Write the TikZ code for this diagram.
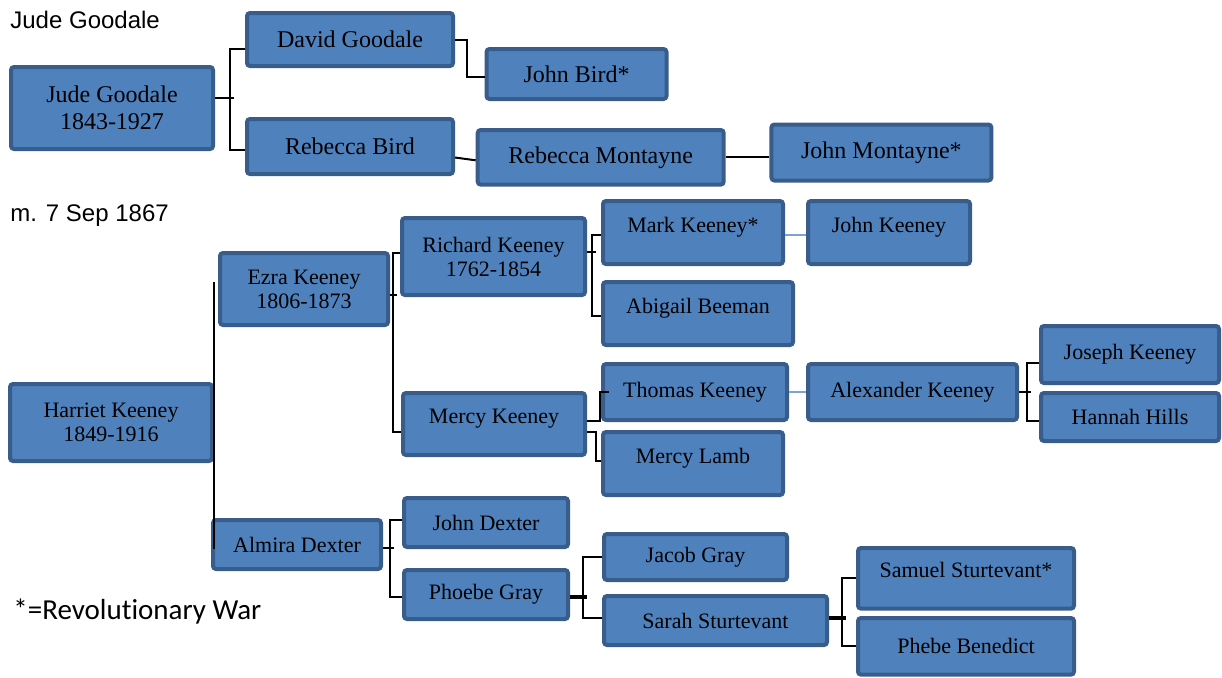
\documentclass[tikz,border=0pt]{standalone}
\usepackage{fontspec}
\setmainfont{Liberation Serif}
\newfontfamily\labelfont{Liberation Sans}
\newfontfamily\notefont[Ligatures=NoCommon]{Carlito}
\definecolor{boxfill}{HTML}{4F81BD}
\definecolor{boxline}{HTML}{385D8A}
\definecolor{tieblue}{HTML}{7BA3D8}

\begin{document}
\begin{tikzpicture}[x=0.5pt,y=-0.5pt,
	person/.style={draw=boxline, fill=boxfill, line width=2pt, rounded corners=1.5pt, align=center, inner sep=0pt, font=\fontsize{11}{12}\selectfont},
	elder/.style={person, font=\fontsize{12}{13.5}\selectfont},
	lifted/.style={text depth=8pt},
	link/.style={line width=1pt},
	stub/.style={line width=1.6pt},
	tie/.style={draw=tieblue, line width=1pt},
	caption/.style={anchor=base west, inner sep=0pt}]
	\useasboundingbox (0,0) rectangle (1222,677);
	\node[caption, font=\labelfont\fontsize{12}{14}\selectfont] (title) at (10,28) {Jude Goodale};
	\node[caption, font=\labelfont\fontsize{12}{14}\selectfont] (married) at (10,221) {m. 7 Sep 1867};
	\node[caption, font=\notefont\fontsize{14.5}{17}\selectfont] (key) at (13,619) {*=Revolutionary War};
	\node[elder, minimum width=101pt, minimum height=41pt] (jude) at (112,108) {Jude Goodale\\1843-1927};
	\node[elder, minimum width=103pt, minimum height=26.5pt] (david) at (350,39.5) {David Goodale};
	\node[elder, minimum width=103pt, minimum height=27.5pt] (rebecca) at (350,146.5) {Rebecca Bird};
	\node[elder, minimum width=90pt, minimum height=25pt] (johnbird) at (576.5,74) {John Bird*};
	\node[elder, minimum width=123pt, minimum height=27.3pt] (rmontayne) at (600.7,157.3) {Rebecca Montayne};
	\node[elder, minimum width=110pt, minimum height=28pt] (jmontayne) at (881.4,152.5) {John Montayne*};
	\node[person, minimum width=101pt, minimum height=38.5pt] (harriet) at (111,422.5) {Harriet Keeney\\1849-1916};
	\node[person, minimum width=84pt, minimum height=36pt] (ezra) at (304,289) {Ezra Keeney\\1806-1873};
	\node[person, minimum width=84pt, minimum height=24.5pt] (almira) at (297,544.5) {Almira Dexter};
	\node[person, minimum width=91.5pt, minimum height=38.5pt] (richard) at (493.5,256.5) {Richard Keeney\\1762-1854};
	\node[person, lifted, minimum width=91pt, minimum height=31pt] (mercyk) at (494,424) {Mercy Keeney};
	\node[person, lifted, minimum width=90pt, minimum height=31.5pt] (mark) at (693,232.5) {Mark Keeney*};
	\node[person, lifted, minimum width=81pt, minimum height=31.5pt] (johnk) at (889,232.5) {John Keeney};
	\node[person, lifted, minimum width=95pt, minimum height=31.5pt] (abigail) at (698,313.5) {Abigail Beeman};
	\node[person, minimum width=92pt, minimum height=28pt] (thomas) at (695,392) {Thomas Keeney};
	\node[person, minimum width=104.5pt, minimum height=28pt] (alexander) at (912.5,392) {Alexander Keeney};
	\node[person, minimum width=89pt, minimum height=28.5pt] (joseph) at (1130,354.5) {Joseph Keeney};
	\node[person, minimum width=89pt, minimum height=24pt] (hannah) at (1130,417) {Hannah Hills};
	\node[person, lifted, minimum width=90pt, minimum height=31.5pt] (mercyl) at (693,463.5) {Mercy Lamb};
	\node[person, minimum width=82pt, minimum height=24.5pt] (johnd) at (486,522.5) {John Dexter};
	\node[person, minimum width=82pt, minimum height=24.5pt] (phoebe) at (486,594.5) {Phoebe Gray};
	\node[person, minimum width=91.5pt, minimum height=23pt] (jacob) at (695.5,557) {Jacob Gray};
	\node[person, minimum width=111.5pt, minimum height=24.5pt] (sarah) at (715.5,620.5) {Sarah Sturtevant};
	\node[person, lifted, minimum width=108pt, minimum height=30.3pt] (samuel) at (966,578.3) {Samuel Sturtevant*};
	\node[person, minimum width=108pt, minimum height=28.3pt] (phebe) at (966,646.3) {Phebe Benedict};
	\draw[link] ([yshift=5pt]jude.east) -- ++(19,0);
	\draw[link] ([yshift=-4.75pt]david.west) -- ++(-15,0) |- ([yshift=-1.75pt]rebecca.west);
	\draw[link] (david.east) -- ++(12,0) |- ([yshift=-1.5pt]johnbird.west);
	\draw[link] ([yshift=-5.5pt]rebecca.east) -- ([yshift=-1.5pt]rmontayne.west);
	\draw[link] (rmontayne.east) -- (rmontayne.east -| jmontayne.west);
	\draw[link] (harriet.east |- ezra.west) ++(0,-7) -- (harriet.east |- almira.west) -- ++(0,4);
	\draw[link] ([yshift=-3pt]ezra.east) -- ++(7,0);
	\draw[link] ([yshift=1.75pt]richard.west) -- ++(-7,0) |- ([yshift=-4pt]mercyk.west);
	\draw[link] ([yshift=2.25pt]richard.east) -- ++(9,0);
	\draw[link] ([yshift=-1.25pt]mark.west) -- ++(-9,0) |- ([yshift=-1.25pt]abigail.west);
	\draw[tie] ([yshift=-1.25pt]mark.east) -- ([yshift=-1.25pt]johnk.west);
	\draw[link] ([yshift=1.5pt]mercyk.east) -- ++(13,0) |- ([xshift=4pt]thomas.west);
	\draw[link] ([yshift=-4pt]mercyk.east) -- ++(9,0) |- ([yshift=1.25pt]mercyl.west);
	\draw[tie] (thomas.east) -- (alexander.west);
	\draw[link] (alexander.east) -- ++(12,0);
	\draw[link] ([yshift=-4.25pt]joseph.west) -- ++(-12,0) |- ([yshift=-2pt]hannah.west);
	\draw[link] ([yshift=-1.75pt]almira.east) -- ++(11,0);
	\draw[link] ([yshift=1.25pt]johnd.west) -- ++(-12,0) |- ([yshift=-1.25pt]phoebe.west);
	\draw[stub] ([yshift=-1.25pt]phoebe.east) -- ++(17,0);
	\draw[link] (jacob.west) -- ++(-19,0) |- ([yshift=1.25pt]sarah.west);
	\draw[stub] ([yshift=1.25pt]sarah.east) -- ++(17,0);
	\draw[link] (samuel.west) -- ++(-14,0) |- (phebe.west);
\end{tikzpicture}
\end{document}
